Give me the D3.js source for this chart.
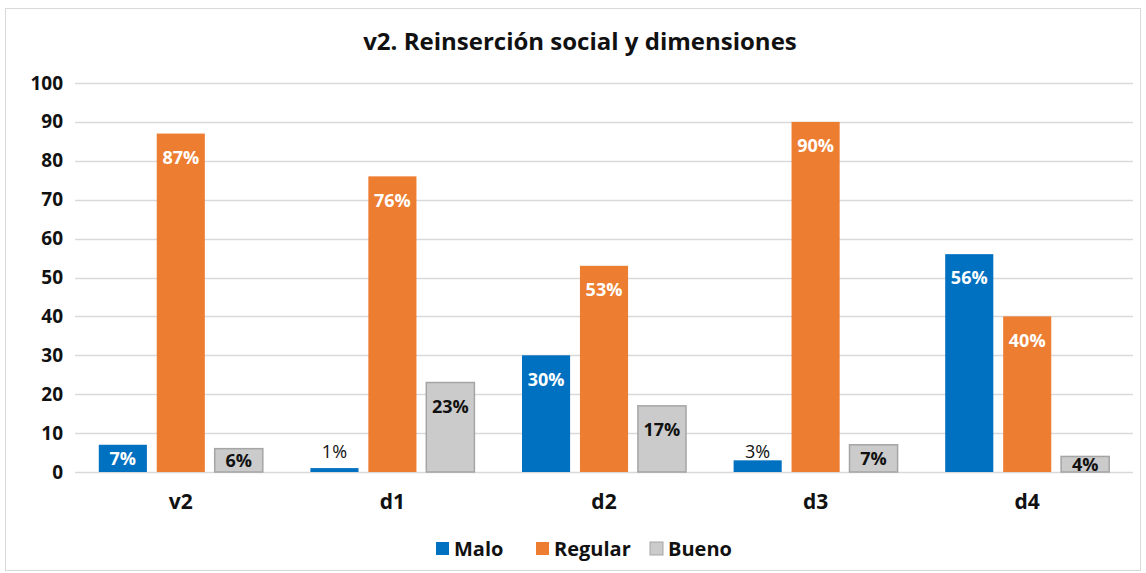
<!DOCTYPE html>
<html lang="es">
  <head>
    <meta charset="utf-8">
    <script src="https://cdn.jsdelivr.net/npm/d3@7"></script>
    <style>
      body { margin: 0; background: #fff; }
      text { font-family: "Open Sans", "Noto Sans", sans-serif; }
    </style>
  </head>
  <body>
    <script type="text/javascript">
      // Data
      var categories = ["v2", "d1", "d2", "d3", "d4"];
      var seriesNames = ["Malo", "Regular", "Bueno"];
      var malo = [7, 1, 30, 3, 56];
      var regular = [87, 76, 53, 90, 40];
      var bueno = [6, 23, 17, 7, 4];
      var yTicks = [0, 10, 20, 30, 40, 50, 60, 70, 80, 90, 100];
      var title = "v2. Reinserción social y dimensiones";

      var seriesValues = [malo, regular, bueno];
      var colors = ["#0070c0", "#ed7d31", "#cbcbcb"];
      var labelColors = ["#fff", "#fff", "#111"];

      // Visuals
      var svgWidth = 1146;
      var svgHeight = 573;
      var margin = {left: 75, right: 13, top: 83, bottom: 101};

      var svg = d3.select("body")
        .append("svg")
        .attr("width", svgWidth)
        .attr("height", svgHeight);

      // chart border
      svg.append("rect")
        .attr("x", 5.5).attr("y", 8.5)
        .attr("width", 1135).attr("height", 562)
        .attr("fill", "#fff")
        .attr("stroke", "#d9d9d9");

      svg.append("text")
        .attr("x", 580).attr("y", 50)
        .attr("text-anchor", "middle")
        .attr("font-size", 24)
        .attr("font-weight", "bold")
        .attr("fill", "#111")
        .text(title);

      var x0 = d3.scaleBand()
        .domain(categories)
        .range([margin.left, svgWidth - margin.right]);

      var x1 = d3.scaleBand()
        .domain(seriesNames)
        .range([0, 164])
        .paddingInner(0.17);

      var y = d3.scaleLinear()
        .domain([0, 100])
        .range([svgHeight - margin.bottom, margin.top]);

      // gridlines
      svg.append("g")
        .selectAll("line")
        .data(yTicks)
        .enter().append("line")
        .attr("x1", margin.left)
        .attr("x2", svgWidth - margin.right)
        .attr("y1", function(d) { return Math.round(y(d)) + 0.5; })
        .attr("y2", function(d) { return Math.round(y(d)) + 0.5; })
        .attr("stroke", "#d9d9d9")
        .attr("stroke-width", 1.5);

      // y axis labels
      var yAxis = svg.append("g")
        .attr("transform", "translate(" + (margin.left - 12) + ",0)")
        .call(d3.axisLeft(y).tickValues(yTicks).tickSize(0).tickPadding(0));
      yAxis.select(".domain").remove();
      yAxis.selectAll("text")
        .attr("font-size", 19)
        .attr("font-weight", "bold")
        .attr("fill", "#111")
        .style("font-family", "'Open Sans', sans-serif");

      // x axis labels
      var xAxis = svg.append("g")
        .attr("transform", "translate(0," + (svgHeight - margin.bottom) + ")")
        .call(d3.axisBottom(x0).tickSize(0).tickPadding(22));
      xAxis.select(".domain").remove();
      xAxis.selectAll("text")
        .attr("font-size", 21)
        .attr("font-weight", "bold")
        .attr("fill", "#111")
        .style("font-family", "'Open Sans', sans-serif");

      // bars
      var groups = svg.append("g")
        .selectAll("g")
        .data(categories)
        .enter().append("g")
        .attr("transform", function(c) {
          return "translate(" + (x0(c) + x0.bandwidth() / 2 - 82) + ",0)";
        });

      var bars = groups.selectAll("g")
        .data(function(c, i) {
          return seriesNames.map(function(s, j) {
            return {series: s, index: j, value: seriesValues[j][i]};
          });
        })
        .enter().append("g");

      bars.append("rect")
        .attr("x", function(d) { return x1(d.series); })
        .attr("y", function(d) { return y(d.value); })
        .attr("width", x1.bandwidth())
        .attr("height", function(d) { return y(0) - y(d.value); })
        .attr("fill", function(d) { return colors[d.index]; })
        .attr("stroke", function(d) { return d.index === 2 ? "#a5a5a5" : "none"; })
        .attr("stroke-width", 1.5);

      bars.append("text")
        .attr("x", function(d) { return x1(d.series) + x1.bandwidth() / 2; })
        .attr("y", function(d) {
          var top = y(d.value), bottom = y(0);
          if (d.index === 0 && d.value < 5) return Math.min(top - 8, bottom - 20);
          return Math.min(top + 24, (top + bottom) / 2);
        })
        .attr("dy", "0.35em")
        .attr("text-anchor", "middle")
        .attr("font-size", 18)
        .attr("font-weight", function(d) { return d.index === 0 && d.value < 5 ? "normal" : "bold"; })
        .attr("fill", function(d) { return d.index === 0 && d.value < 5 ? "#111" : labelColors[d.index]; })
        .text(function(d) { return d.value + "%"; });

      // legend
      var legendX = [436, 536, 650];
      var legend = svg.append("g")
        .selectAll("g")
        .data(seriesNames)
        .enter().append("g")
        .attr("transform", function(d, i) { return "translate(" + legendX[i] + ",542)"; });

      legend.append("rect")
        .attr("width", 13).attr("height", 13)
        .attr("fill", function(d, i) { return colors[i]; })
        .attr("stroke", function(d, i) { return i === 2 ? "#a5a5a5" : "none"; });

      legend.append("text")
        .attr("x", 18).attr("y", 7)
        .attr("dy", "0.35em")
        .attr("font-size", 20)
        .attr("font-weight", "bold")
        .attr("fill", "#111")
        .text(function(d) { return d; });
    </script>
  </body>
</html>
